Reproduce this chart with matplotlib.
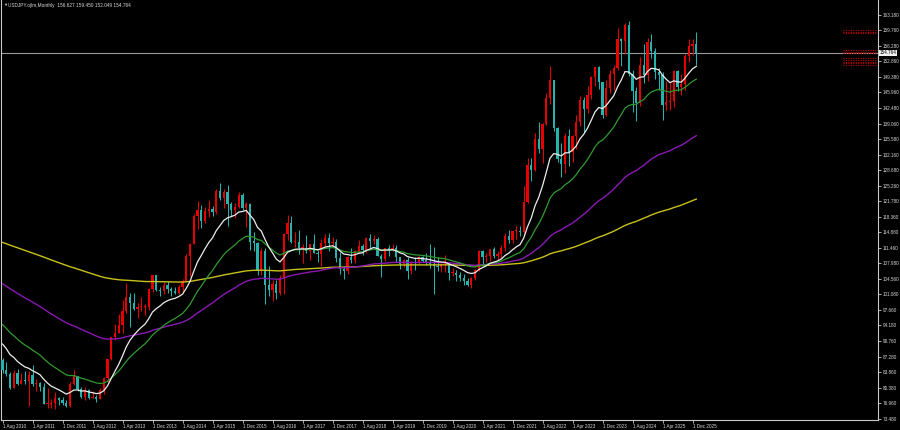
import numpy as np
import pandas as pd
import matplotlib
matplotlib.use("Agg")
import matplotlib.pyplot as plt
import matplotlib.transforms as mtransforms

plt.rcParams['font.family'] = ['Liberation Sans', 'DejaVu Sans']

title_text = "USDJPY.ojlm,Monthly  156.627 159.450 152.049 154.764"
first_month = "2010-08-01"

# monthly closes before the visible window (Jan 1990 - Jul 2010), used only to warm up the MAs
history_close = [
    144.6, 149.3, 157.6, 159.0, 152.2, 152.9, 146.4, 144.3, 138.4, 129.3, 132.8, 135.4,
    131.0, 132.9, 140.7, 137.2, 138.5, 137.9, 137.4, 136.9, 133.0, 130.5, 129.8, 124.9,
    125.4, 129.3, 133.2, 133.2, 127.8, 125.6, 127.2, 123.3, 119.3, 123.3, 124.8, 124.9,
    124.5, 117.9, 115.1, 111.1, 107.2, 106.5, 104.9, 104.6, 105.3, 108.1, 109.0, 111.9,
    108.7, 104.3, 102.7, 101.9, 104.8, 98.5, 99.9, 100.5, 98.6, 97.3, 98.6, 99.7,
    99.6, 97.0, 86.5, 83.7, 83.2, 84.6, 88.4, 97.4, 99.7, 101.9, 101.9, 103.4,
    107.0, 104.8, 106.6, 104.6, 108.3, 109.9, 106.9, 108.6, 111.3, 114.0, 113.5, 115.8,
    121.3, 120.2, 123.9, 126.8, 116.6, 114.6, 118.3, 120.6, 120.9, 120.1, 127.8, 130.5,
    127.0, 126.0, 133.4, 132.6, 138.8, 138.4, 144.4, 141.4, 135.7, 116.0, 123.4, 113.2,
    116.2, 118.9, 118.9, 119.4, 121.4, 120.8, 114.5, 109.7, 106.0, 104.2, 102.1, 102.2,
    107.3, 110.2, 102.8, 106.4, 107.8, 106.1, 109.5, 106.7, 107.9, 108.9, 111.0, 114.4,
    116.4, 117.2, 125.5, 123.6, 118.9, 124.7, 124.9, 118.9, 119.3, 122.5, 123.3, 131.0,
    134.7, 133.5, 132.7, 128.5, 124.2, 119.6, 119.6, 118.4, 121.8, 122.5, 122.4, 118.8,
    119.9, 117.4, 118.1, 119.0, 119.4, 119.8, 120.5, 116.7, 111.3, 109.9, 109.6, 107.2,
    105.8, 109.1, 104.0, 110.4, 110.0, 108.8, 111.4, 109.9, 110.1, 105.8, 103.1, 102.6,
    103.6, 104.6, 107.2, 104.9, 108.4, 110.8, 112.5, 111.0, 113.4, 116.4, 119.8, 117.8,
    117.2, 115.8, 117.8, 113.9, 112.5, 114.4, 114.6, 117.3, 118.1, 116.9, 115.9, 119.0,
    120.7, 118.5, 117.8, 119.6, 121.7, 123.2, 118.6, 115.8, 114.9, 115.4, 111.2, 111.7,
    106.4, 104.0, 99.7, 104.0, 105.5, 106.2, 108.1, 108.8, 106.0, 98.4, 95.5, 90.6,
    89.9, 97.6, 98.9, 98.6, 95.3, 96.3, 94.7, 93.0, 89.7, 90.1, 86.3, 93.0,
    90.3, 88.9, 93.4, 93.9, 91.3, 88.4, 86.5,
]

# visible candles, Aug 2010 - Jan 2026
close = [
    84.2, 83.5, 80.4, 83.7, 81.1,
    82.0, 81.8, 83.1, 81.2, 81.5, 80.5, 76.7, 76.7, 77.0, 78.1, 77.6, 76.9,
    76.2, 81.2, 82.9, 80.0, 78.3, 79.8, 78.1, 78.4, 77.9, 79.8, 82.5, 86.7,
    91.7, 92.6, 94.2, 97.5, 100.5, 99.1, 97.9, 98.2, 98.3, 98.4, 102.4, 105.3,
    102.0, 101.8, 103.2, 102.2, 101.8, 101.3, 102.8, 104.1, 109.6, 112.3, 118.6, 119.8,
    117.5, 119.6, 120.1, 119.4, 124.1, 122.5, 123.9, 121.2, 119.9, 120.6, 123.1, 120.2,
    121.1, 112.7, 112.6, 106.3, 110.7, 103.2, 102.1, 103.4, 101.3, 104.8, 114.5, 117.0,
    112.8, 112.8, 111.4, 111.5, 110.8, 112.4, 110.3, 110.0, 112.5, 113.7, 112.5, 112.7,
    109.2, 106.7, 106.3, 109.3, 108.8, 110.7, 111.9, 111.0, 113.7, 112.9, 113.5, 109.7,
    108.9, 111.4, 110.9, 111.4, 109.3, 107.9, 108.7, 106.3, 108.1, 108.0, 109.5, 108.6,
    108.4, 107.9, 107.5, 107.2, 107.8, 107.9, 105.9, 105.9, 105.5, 104.7, 104.1, 103.2,
    104.7, 106.6, 110.7, 109.3, 109.6, 111.1, 109.7, 110.0, 111.3, 114.0, 113.2, 115.1,
    115.1, 115.0, 121.7, 129.8, 128.7, 135.7, 133.3, 138.9, 144.7, 148.7, 138.1, 131.1,
    130.1, 136.2, 132.8, 136.3, 139.3, 144.3, 142.3, 145.5, 149.4, 151.7, 148.2, 141.0,
    146.9, 150.0, 151.3, 157.8, 157.3, 160.9, 150.0, 146.2, 143.6, 152.0, 149.8, 157.2,
    155.2, 150.6, 149.9, 143.1, 143.9, 144.0, 150.8, 147.1, 147.9, 154.0, 156.2, 156.627,
    154.764,
]

high = [
    86.9, 86.0, 83.9, 84.4, 84.5,
    83.6, 84.0, 84.1, 85.5, 82.2, 81.7, 81.5, 80.2, 77.9, 79.5, 78.3, 78.3,
    77.7, 81.7, 84.2, 83.0, 80.5, 80.6, 80.0, 79.6, 78.8, 80.4, 82.8, 86.8,
    91.7, 94.5, 96.7, 99.9, 103.7, 101.5, 101.5, 99.2, 100.6, 99.0, 102.6, 105.4,
    105.4, 102.8, 103.8, 104.1, 102.8, 102.8, 103.1, 104.5, 110.1, 112.5, 118.9, 121.9,
    121.0, 120.5, 122.0, 120.8, 124.5, 125.9, 124.6, 125.3, 121.7, 121.5, 123.8, 123.6,
    121.7, 121.5, 114.9, 112.7, 111.5, 111.4, 107.5, 104.3, 104.2, 105.5, 114.8, 118.7,
    118.6, 115.0, 115.5, 112.2, 114.4, 112.4, 114.5, 111.0, 113.3, 114.5, 114.7, 113.8,
    113.4, 110.5, 107.3, 109.6, 111.4, 110.9, 113.2, 112.2, 113.8, 114.6, 114.2, 113.8,
    110.0, 111.5, 112.1, 112.4, 112.0, 109.0, 109.0, 109.3, 108.5, 109.3, 109.7, 109.7,
    110.3, 112.2, 111.7, 109.4, 108.1, 109.9, 108.2, 107.0, 106.6, 106.1, 105.7, 104.8,
    104.9, 106.7, 110.9, 110.9, 110.2, 111.1, 111.7, 110.8, 112.1, 114.7, 115.5, 115.2,
    116.4, 116.3, 125.1, 131.3, 131.3, 137.0, 139.4, 139.1, 145.9, 151.9, 148.8, 138.2,
    134.8, 136.9, 137.9, 136.6, 140.9, 145.1, 145.0, 147.4, 149.7, 151.7, 151.9, 148.0,
    148.8, 150.9, 152.0, 160.2, 158.0, 161.3, 161.95, 150.9, 147.2, 153.9, 156.7, 158.1,
    158.9, 155.9, 151.3, 150.5, 148.6, 148.0, 150.9, 151.0, 150.0, 154.5, 157.9, 157.8,
    159.45,
]

low = [
    83.6, 82.9, 80.1, 80.2, 80.9,
    81.1, 81.1, 76.3, 80.8, 79.6, 79.7, 76.7, 75.9, 75.9, 75.6, 76.6, 76.6,
    76.1, 76.1, 80.9, 79.6, 78.0, 77.7, 77.9, 78.0, 77.1, 77.8, 79.0, 81.7,
    86.5, 90.9, 92.6, 92.6, 97.0, 93.8, 97.6, 95.8, 97.3, 96.6, 97.6, 101.6,
    101.8, 100.8, 101.2, 101.4, 100.8, 101.1, 101.1, 101.5, 104.1, 105.2, 112.2, 115.6,
    115.9, 116.9, 118.3, 118.5, 118.9, 122.0, 120.4, 116.2, 118.6, 118.1, 120.3, 119.9,
    116.0, 110.9, 110.7, 105.5, 105.5, 99.0, 100.7, 99.6, 100.1, 100.9, 101.2, 113.1,
    112.5, 111.6, 110.1, 108.1, 110.2, 108.8, 110.3, 108.3, 107.3, 111.7, 110.8, 111.9,
    108.3, 105.6, 104.6, 105.7, 108.1, 108.1, 110.3, 109.8, 110.4, 111.4, 112.3, 109.6,
    104.9, 108.5, 109.7, 110.8, 108.3, 106.8, 107.2, 104.5, 105.7, 106.5, 107.9, 108.4,
    107.6, 107.0, 101.2, 106.4, 106.0, 106.1, 104.2, 105.1, 104.0, 104.0, 103.2, 102.9,
    102.6, 104.4, 106.4, 107.5, 108.3, 108.6, 109.1, 108.7, 109.1, 110.8, 112.5, 112.6,
    113.5, 114.1, 114.7, 121.3, 126.4, 128.6, 132.5, 130.4, 138.7, 143.5, 137.5, 130.6,
    127.2, 128.1, 129.6, 130.6, 133.5, 138.4, 137.2, 141.5, 144.4, 147.3, 146.7, 140.2,
    140.8, 145.9, 146.5, 151.0, 151.9, 154.6, 149.6, 141.7, 139.6, 142.9, 148.0, 148.6,
    153.7, 148.9, 146.5, 139.9, 142.1, 142.1, 142.7, 146.2, 145.5, 146.6, 152.8, 154.3,
    152.049,
]

bid_price = 154.764
price_ticks = [163.18, 159.76, 156.28, 152.86, 149.38, 145.96, 142.48, 139.06, 135.58,
               132.16, 128.68, 125.26, 121.78, 118.36, 114.88, 111.46, 107.98, 104.56,
               101.08, 97.66, 94.18, 90.76, 87.28, 83.86, 80.38, 76.96, 73.48]
# red dotted pending-level marks at the right edge
level_marks = [159.85, 159.47, 159.10, 155.40, 155.02, 154.65,
               153.56, 153.18, 152.80, 152.43, 152.07]

# ---- derived series ----
close = np.array(close)
high = np.array(high)
low = np.array(low)
opn = np.concatenate([[history_close[-1]], close[:-1]])  # FX monthly open = previous close
n = len(close)
idx = np.arange(n)
dates = pd.date_range(first_month, periods=n, freq="MS")

full = pd.Series(np.concatenate([history_close, close]))
ma_white = full.ewm(span=12, adjust=False).mean().values[-n:]
ma_green = full.ewm(span=26, adjust=False).mean().values[-n:]
ma_purple = full.ewm(span=75, adjust=False).mean().values[-n:]
ma_yellow = full.ewm(span=200, adjust=False).mean().values[-n:]

# ---- figure ----
W, H = 900, 430
fig = plt.figure(figsize=(W / 100, H / 100), dpi=100, facecolor="black")
ax = fig.add_axes([1 / W, 10 / H, 877 / W, 420 / H], facecolor="black")

px_per_bar = 3.75
ax.set_xlim((1 - 2.5) / px_per_bar, (878 - 2.5) / px_per_bar)
ax.set_ylim(73.18, 166.51)

up_col = "#e80000"
dn_col = "#27b3ad"
up = close >= opn
cols = np.where(up, up_col, dn_col)

ax.vlines(idx, low, high, colors=cols, linewidth=0.75, zorder=2)
body_lo = np.minimum(opn, close)
body_h = np.maximum(np.abs(close - opn), 0.25)
ax.bar(idx, body_h, bottom=body_lo, width=0.62, color=cols, linewidth=0, zorder=3)

ax.plot(idx, ma_yellow, color="#c9c11c", lw=1.0, zorder=4)
ax.plot(idx, ma_purple, color="#8a18b4", lw=1.0, zorder=4)
ax.plot(idx, ma_green, color="#2f9a2f", lw=0.9, zorder=4)
ax.plot(idx, ma_white, color="#eeeeee", lw=0.9, zorder=5)

# bid line
ax.axhline(bid_price, color="#9a9a9a", lw=0.8, zorder=1)

# pending level marks on the right edge
ax.hlines(level_marks, 0.96, 0.998, transform=ax.get_yaxis_transform(),
          colors="#c00000", linestyles=(0, (1, 1.2)), lw=0.8, zorder=6)

for s in ax.spines.values():
    s.set_color("#c8c8c8")
    s.set_linewidth(0.8)
ax.spines["top"].set_visible(False)

# price axis on the right
ax.yaxis.tick_right()
ax.set_yticks(price_ticks)
ax.set_yticklabels([f"{p:.3f}" for p in price_ticks])
ax.tick_params(axis="y", colors="#c8c8c8", labelcolor="#d8d8d8", length=2.5,
               width=0.6, pad=1, labelsize=3.3)

# time axis
tick_idx = idx[::8]
ax.set_xticks(tick_idx)
ax.set_xticklabels([f"1 {d:%b %Y}" for d in dates[tick_idx]], ha="left")
ax.tick_params(axis="x", colors="#c8c8c8", labelcolor="#d8d8d8", length=2,
               width=0.6, pad=0.8, labelsize=3.3)
for lab in ax.get_xticklabels():
    lab.set_transform(lab.get_transform() + mtransforms.ScaledTranslation(0.5 / 72, 0, fig.dpi_scale_trans))

# current price box
ax.text(1.0 + 1.5 / 877, bid_price, f"{bid_price:.3f}", transform=ax.get_yaxis_transform(),
        ha="left", va="center", fontsize=3.3, color="black",
        bbox=dict(boxstyle="square,pad=0.15", facecolor="#f0f0f0", edgecolor="none"))

# header
fig.text(3 / W, 1 - 5 / H, "\u25bc", fontsize=3, color="#d8d8d8", va="center", ha="left")
fig.text(8 / W, 1 - 5 / H, title_text, fontsize=3.4, color="#d8d8d8", va="center", ha="left")

fig.savefig("out.png", dpi=100, facecolor="black")
